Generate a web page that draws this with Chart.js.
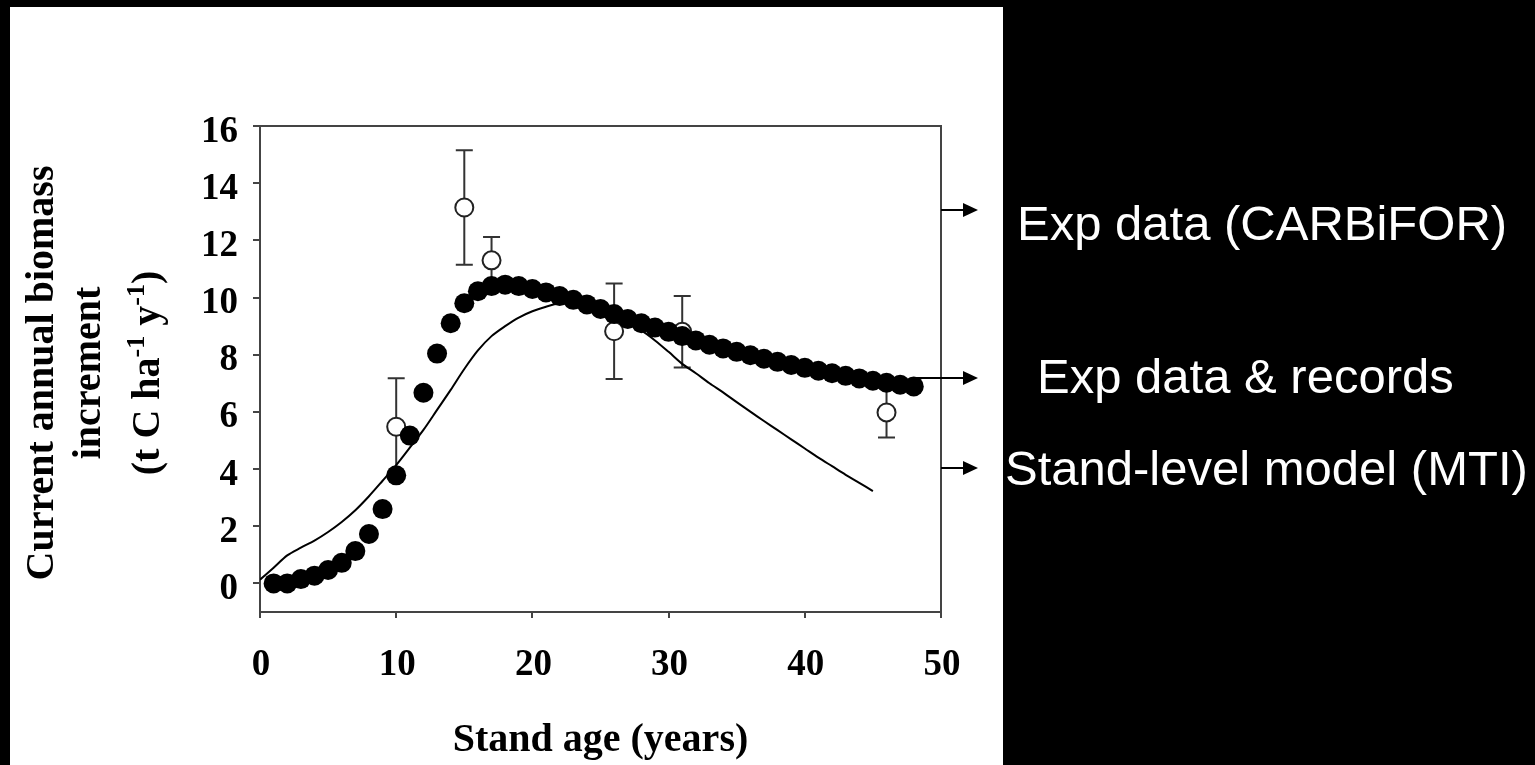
<!DOCTYPE html>
<html><head><meta charset="utf-8">
<script src="https://cdn.jsdelivr.net/npm/chart.js@4.4.0/dist/chart.umd.min.js"></script>
<style>html,body{margin:0;padding:0;background:#000;overflow:hidden}canvas{display:block}</style>
</head><body>
<canvas id="c" width="1535" height="765"></canvas>
<script>
// ---- data ----
const standAge = [1,2,3,4,5,6,7,8,9,10,11,12,13,14,15,16,17,18,19,20,21,22,23,24,25,26,27,28,29,30,31,32,33,34,35,36,37,38,39,40,41,42,43,44,45,46,47,48];
const annualIncrement = [0.0,0.0,0.15,0.27,0.47,0.72,1.13,1.73,2.6,3.78,5.17,6.67,8.04,9.1,9.8,10.22,10.4,10.45,10.4,10.3,10.18,10.05,9.92,9.76,9.6,9.42,9.25,9.1,8.95,8.8,8.65,8.5,8.35,8.22,8.1,7.98,7.86,7.75,7.64,7.54,7.44,7.35,7.26,7.17,7.09,7.02,6.95,6.89];
const expAge = [10,15,17,26,31,46];
const expIncrement = [5.48,13.15,11.3,8.82,8.8,5.98];
const expError = [1.7,2.0,0.82,1.67,1.25,0.88];
const modelAge = [0,1,2,3,4,5,6,7,8,9,10,11,12,13,14,15,16,17,18,19,20,21,22,23,24,25,26,27,28,29,30,31,32,33,34,35,36,37,38,39,40,41,42,43,44,45];
const modelIncrement = [0.13,0.55,0.98,1.25,1.5,1.8,2.15,2.56,3.05,3.59,4.14,4.75,5.37,6.07,6.77,7.5,8.15,8.65,9.0,9.3,9.52,9.68,9.8,9.82,9.72,9.55,9.33,9.1,8.85,8.5,8.1,7.68,7.35,7.0,6.68,6.34,6.01,5.68,5.36,5.04,4.72,4.4,4.1,3.8,3.52,3.23];
const xTickValues = [0,10,20,30,40,50];
const yTickValues = [0,2,4,6,8,10,12,14,16];
const xTitle = 'Stand age (years)';
const yTitleLines = [
  [{t:'Current annual biomass'}],
  [{t:'increment'}],
  [{t:'(t C ha'},{t:'-1',sup:true},{t:' y'},{t:'-1',sup:true},{t:')'}]
];
const seriesLabels = ['Exp data (CARBiFOR)','Exp data & records','Stand-level model (MTI)'];

// ---- styling / layout ----
const SERIF = "'Liberation Serif','Times New Roman',serif";
const SANS = "'Liberation Sans',Arial,sans-serif";
const AXIS = '#444';

const background = {
  id:'background',
  beforeDraw(chart){
    const ctx = chart.ctx;
    ctx.save();
    ctx.fillStyle = '#000';
    ctx.fillRect(0,0,chart.width,chart.height);
    ctx.fillStyle = '#fff';
    ctx.fillRect(10,7,993,chart.height-7);
    ctx.restore();
  }
};

const frameAndErrors = {
  id:'frameAndErrors',
  beforeDatasetsDraw(chart){
    const {ctx, chartArea:a, scales:{x,y}} = chart;
    ctx.save();
    ctx.strokeStyle = AXIS; ctx.lineWidth = 2;
    ctx.beginPath();
    ctx.moveTo(a.left-7, a.top); ctx.lineTo(a.right, a.top); ctx.lineTo(a.right, a.bottom);
    ctx.stroke();
    ctx.strokeStyle = '#333'; ctx.lineWidth = 2;
    expAge.forEach((age,i)=>{
      const px = x.getPixelForValue(age);
      const top = y.getPixelForValue(expIncrement[i]+expError[i]);
      const bot = y.getPixelForValue(expIncrement[i]-expError[i]);
      ctx.beginPath();
      ctx.moveTo(px,top); ctx.lineTo(px,bot);
      ctx.moveTo(px-8.5,top); ctx.lineTo(px+8.5,top);
      ctx.moveTo(px-8.5,bot); ctx.lineTo(px+8.5,bot);
      ctx.stroke();
    });
    ctx.restore();
  }
};

const annotations = {
  id:'annotations',
  afterDraw(chart){
    const {ctx, chartArea:a, scales:{x,y}} = chart;
    ctx.save();
    // rotated y-axis title
    const fs = 40, sfs = 26;
    const baselines = [53,100,159];
    const cy = 373;
    yTitleLines.forEach((segs,li)=>{
      let total = 0;
      segs.forEach(s=>{ ctx.font = 'bold '+(s.sup?sfs:fs)+'px '+SERIF; s.w = ctx.measureText(s.t).width; total += s.w; });
      ctx.save();
      ctx.translate(baselines[li], cy);
      ctx.rotate(-Math.PI/2);
      ctx.fillStyle = '#000';
      ctx.textAlign = 'left'; ctx.textBaseline = 'alphabetic';
      let cx = -total/2;
      segs.forEach(s=>{
        ctx.font = 'bold '+(s.sup?sfs:fs)+'px '+SERIF;
        ctx.fillText(s.t, cx, s.sup ? -15 : 0);
        cx += s.w;
      });
      ctx.restore();
    });
    // arrows + labels
    const arrowY = [13.05, 7.2, 4.05];
    const arrowStart = [a.right, x.getPixelForValue(standAge[standAge.length-1]), a.right];
    const textX = [1017, 1037, 1005];
    const textDy = [30, 15, 17];
    const tip = 978;
    ctx.fillStyle = '#000'; ctx.strokeStyle = '#000'; ctx.lineWidth = 2;
    arrowY.forEach((v,i)=>{
      const py = Math.round(y.getPixelForValue(v));
      ctx.beginPath(); ctx.moveTo(arrowStart[i], py); ctx.lineTo(tip-12, py); ctx.stroke();
      ctx.beginPath(); ctx.moveTo(tip, py); ctx.lineTo(tip-15, py-7); ctx.lineTo(tip-15, py+7); ctx.closePath(); ctx.fill();
      ctx.save();
      ctx.fillStyle = '#fff';
      ctx.font = '49px '+SANS;
      ctx.textAlign = 'left'; ctx.textBaseline = 'alphabetic';
      ctx.fillText(seriesLabels[i], textX[i], py + textDy[i]);
      ctx.restore();
    });
    ctx.restore();
  }
};

new Chart(document.getElementById('c'), {
  type:'scatter',
  data:{
    datasets:[
      { label:seriesLabels[1], data:standAge.map((a,i)=>({x:a,y:annualIncrement[i]})),
        pointRadius:10, pointHoverRadius:10, pointBackgroundColor:'#000', pointBorderColor:'#000', pointBorderWidth:0, showLine:false },
      { label:seriesLabels[0], data:expAge.map((a,i)=>({x:a,y:expIncrement[i]})),
        pointRadius:9, pointHoverRadius:9, pointBackgroundColor:'#fff', pointBorderColor:'#222', pointBorderWidth:2, showLine:false },
      { label:seriesLabels[2], data:modelAge.map((a,i)=>({x:a,y:modelIncrement[i]})),
        showLine:true, pointRadius:0, borderColor:'#000', borderWidth:2, tension:0.3, fill:false }
    ]
  },
  options:{
    responsive:false, animation:false, devicePixelRatio:1,
    layout:{padding:{left:10,right:594,top:126,bottom:0}},
    plugins:{legend:{display:false}, tooltip:{enabled:false}},
    scales:{
      x:{ type:'linear', min:0, max:50,
        afterBuildTicks:s=>{ s.ticks = xTickValues.map(v=>({value:v})); },
        afterFit:s=>{ s.height = 153; },
        grid:{display:true, drawOnChartArea:false, drawTicks:true, tickLength:6, color:AXIS, lineWidth:2},
        border:{display:true, color:AXIS, width:2},
        ticks:{color:'#000', font:{family:SERIF, size:37, weight:'bold'}, padding:25, maxRotation:0, autoSkip:false, labelOffset:1},
        title:{display:true, text:xTitle, color:'#000', font:{family:SERIF, size:40, weight:'bold'}, padding:{top:0,bottom:0}}
      },
      y:{ type:'linear', min:-1, max:16,
        afterBuildTicks:s=>{ s.ticks = yTickValues.map(v=>({value:v})); },
        afterFit:s=>{ s.width = 250; },
        grid:{display:true, drawOnChartArea:false, drawTicks:true, tickLength:7, color:AXIS, lineWidth:2},
        border:{display:true, color:AXIS, width:2},
        ticks:{color:'#000', font:{family:SERIF, size:37, weight:'bold'}, padding:15, autoSkip:false, labelOffset:6},
        title:{display:false}
      }
    }
  },
  plugins:[background, frameAndErrors, annotations]
});
</script>
</body></html>
